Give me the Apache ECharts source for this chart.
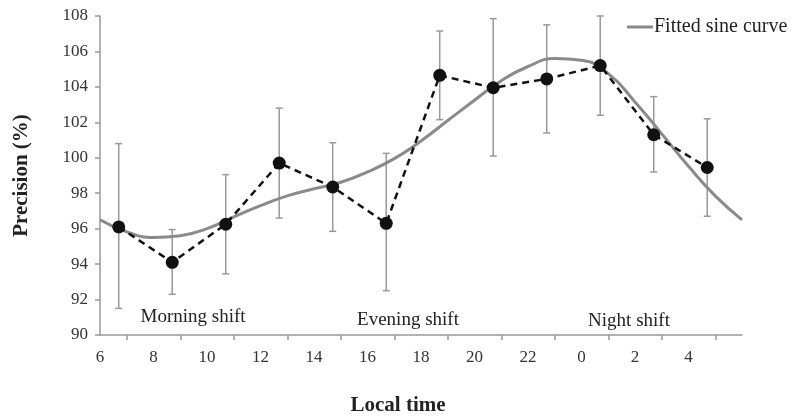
<!DOCTYPE html>
<html><head><meta charset="utf-8">
<script src="https://cdn.jsdelivr.net/npm/echarts@6/dist/echarts.min.js"></script>
<style>html,body{margin:0;padding:0;background:#fff}#c{width:792px;height:418px}</style>
</head><body><div id="c"></div>
<script>
// Observed points (hour of day, continuous past midnight: 24 = 0, 28 = 4)
const hours = [6.7, 8.7, 10.7, 12.7, 14.7, 16.7, 18.7, 20.7, 22.7, 24.7, 26.7, 28.7];
const precision = [96.1, 94.1, 96.25, 99.7, 98.35, 96.3, 104.65, 103.95, 104.45, 105.2, 101.3, 99.45];
const errLow = [91.5, 92.3, 93.45, 96.6, 95.85, 92.5, 102.15, 100.1, 101.4, 102.4, 99.2, 96.7];
const errHigh = [100.8, 95.95, 99.05, 102.8, 100.85, 100.25, 107.15, 107.85, 107.5, 108.0, 103.45, 102.2];
// Fitted sine curve
const curveHours = [6, 7, 8, 9, 10, 11, 12, 13, 14, 15, 16, 17, 18, 19, 20, 21, 22, 23, 24, 25, 26, 27, 28, 29, 30];
const curveValues = [96.5, 95.82, 95.5, 95.6, 96.0, 96.66, 97.3, 97.85, 98.25, 98.62, 99.2, 99.95, 100.95, 102.1, 103.25, 104.35, 105.15, 105.6, 105.5, 104.75, 103.15, 101.35, 99.52, 97.85, 96.5];
const yTicks = [90, 92, 94, 96, 98, 100, 102, 104, 106, 108];
const shiftLabels = ['Morning shift', 'Evening shift', 'Night shift'];

const serif = '"Liberation Serif", "Times New Roman", serif';
const chart = echarts.init(document.getElementById('c'));
chart.setOption({
  animation: false,
  backgroundColor: '#fff',
  grid: { left: 100, right: 50, top: 16, bottom: 83 },
  legend: {
    left: 622, top: 12, itemWidth: 26, itemHeight: 3, itemGap: 0,
    data: [{ name: 'Fitted sine curve', icon: 'rect' }],
    textStyle: { fontFamily: serif, fontSize: 20, color: '#222', padding: [0, 0, 0, -4] }
  },
  xAxis: {
    type: 'value', min: 6, max: 30, interval: 2,
    axisLine: { show: true, onZero: false, lineStyle: { color: '#999', width: 1.5 } },
    axisTick: { show: false },
    minorTick: { show: true, splitNumber: 2, length: 5, lineStyle: { color: '#999', width: 1.5 } },
    splitLine: { show: false },
    axisLabel: {
      fontFamily: serif, fontSize: 17, color: '#333', margin: 14,
      formatter: v => (v >= 30 ? '' : String(v % 24))
    }
  },
  yAxis: {
    type: 'value', min: yTicks[0], max: yTicks[yTicks.length - 1], interval: 2,
    name: 'Precision (%)', nameLocation: 'middle', nameGap: 68,
    nameTextStyle: { fontFamily: serif, fontSize: 21, fontWeight: 'bold', color: '#222' },
    axisLine: { show: true, lineStyle: { color: '#999', width: 1.5 } },
    axisTick: { show: true, length: 5, lineStyle: { color: '#999', width: 1.5 } },
    splitLine: { show: false },
    axisLabel: { fontFamily: serif, fontSize: 17, color: '#333', margin: 12 }
  },
  graphic: [
    { type: 'text', x: 193, y: 317, style: { text: shiftLabels[0], font: '19px ' + serif, fill: '#222', textAlign: 'center', textVerticalAlign: 'middle' } },
    { type: 'text', x: 408, y: 320, style: { text: shiftLabels[1], font: '19px ' + serif, fill: '#222', textAlign: 'center', textVerticalAlign: 'middle' } },
    { type: 'text', x: 629, y: 321, style: { text: shiftLabels[2], font: '19px ' + serif, fill: '#222', textAlign: 'center', textVerticalAlign: 'middle' } },
    { type: 'text', x: 398, y: 406, style: { text: 'Local time', font: 'bold 21px ' + serif, fill: '#222', textAlign: 'center', textVerticalAlign: 'middle' } }
  ],
  series: [
    {
      name: 'Fitted sine curve', type: 'line', smooth: 0.5, showSymbol: false, symbol: 'none',
      data: curveHours.map((h, i) => [h, curveValues[i]]),
      lineStyle: { color: '#8a8a8a', width: 3 }, itemStyle: { color: '#8a8a8a' }, z: 2
    },
    {
      name: 'err', type: 'custom',
      data: hours.map((h, i) => [h, errLow[i], errHigh[i]]),
      renderItem: (params, api) => {
        const lo = api.coord([api.value(0), api.value(1)]);
        const hi = api.coord([api.value(0), api.value(2)]);
        const w = 3.5;
        const st = { stroke: '#999', lineWidth: 1.5 };
        return { type: 'group', children: [
          { type: 'line', shape: { x1: lo[0], y1: lo[1], x2: hi[0], y2: hi[1] }, style: st },
          { type: 'line', shape: { x1: lo[0] - w, y1: lo[1], x2: lo[0] + w, y2: lo[1] }, style: st },
          { type: 'line', shape: { x1: hi[0] - w, y1: hi[1], x2: hi[0] + w, y2: hi[1] }, style: st }
        ]};
      }, z: 1
    },
    {
      name: 'obs', type: 'line', symbol: 'circle', symbolSize: 13,
      data: hours.map((h, i) => [h, precision[i]]),
      lineStyle: { color: '#111', width: 2.5, type: [7, 5] },
      itemStyle: { color: '#111' }, z: 3
    }
  ]
});
</script></body></html>
